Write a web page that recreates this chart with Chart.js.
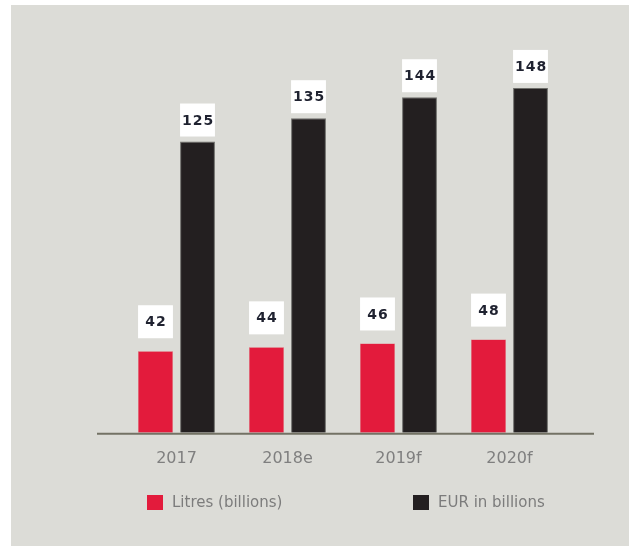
<!DOCTYPE html>
<html>
<head>
<meta charset="utf-8">
<script src="https://cdn.jsdelivr.net/npm/chart.js@4.4.1/dist/chart.umd.min.js"></script>
<style>
  html, body { margin: 0; padding: 0; background: #ffffff; }
  #panel { position: absolute; left: 11px; top: 5px; width: 618px; height: 541px; background: #dcdcd7; }
  #myChart { position: absolute; left: 0; top: 0; }
  #legend { position: absolute; left: 136px; top: 488px; display: flex; font-family: "DejaVu Sans", sans-serif; font-size: 15px; color: #7c7c7c; }
  .item { display: flex; align-items: center; width: 266px; }
  .box { width: 16px; height: 15px; margin-right: 9px; }
</style>
</head>
<body>
<div id="panel">
  <canvas id="myChart" width="618" height="541"></canvas>
  <div id="legend"></div>
</div>
<script>
// data
const years = ["2017", "2018e", "2019f", "2020f"];
const litres = [42, 44, 46, 48];
const euros = [125, 135, 144, 148];
const seriesNames = ["Litres (billions)", "EUR in billions"];

const red = "#e31b3c";
const black = "#231f20";

// white boxes with the value above each bar
const valueBoxes = {
  id: "valueBoxes",
  afterDatasetsDraw(chart) {
    const c = chart.ctx;
    chart.data.datasets.forEach((ds, i) => {
      const gap = i === 0 ? 13 : 5;
      chart.getDatasetMeta(i).data.forEach((bar, j) => {
        const w = bar.width;
        const h = 33;
        const x = bar.x - w / 2;
        const y = bar.y - gap - h;
        c.save();
        c.fillStyle = "#ffffff";
        c.fillRect(x, y, w, h);
        c.fillStyle = "#1f2230";
        c.font = "bold 14px 'DejaVu Sans'";
        c.letterSpacing = "1px";
        c.textAlign = "center";
        c.textBaseline = "middle";
        c.fillText(ds.data[j], bar.x + 0.5, y + h / 2 + 1);
        c.restore();
      });
    });
  }
};

// baseline, a bit wider than the bars
const baseLine = {
  id: "baseLine",
  afterDatasetsDraw(chart) {
    const a = chart.chartArea;
    const c = chart.ctx;
    c.save();
    c.strokeStyle = "#737264";
    c.lineWidth = 2;
    c.beginPath();
    c.moveTo(a.left - 24, a.bottom + 1);
    c.lineTo(a.right + 29, a.bottom + 1);
    c.stroke();
    c.restore();
  }
};

const ctx = document.getElementById("myChart");
const chart = new Chart(ctx, {
  type: "bar",
  data: {
    labels: years,
    datasets: [
      { label: seriesNames[0], data: litres, backgroundColor: red, borderColor: "#e4505f", borderWidth: 0.5, yAxisID: "yL" },
      { label: seriesNames[1], data: euros, backgroundColor: black, borderColor: "#6e6e6a", borderWidth: 1, yAxisID: "yE" }
    ]
  },
  options: {
    responsive: false,
    animation: false,
    devicePixelRatio: 1,
    categoryPercentage: 0.757,
    barPercentage: 0.83,
    layout: { padding: { left: 110, right: 64, top: 20, bottom: 62 } },
    plugins: { legend: { display: false }, tooltip: { enabled: false } },
    scales: {
      x: {
        grid: { display: false, drawTicks: false },
        border: { display: false },
        ticks: { color: "#7f7f7f", padding: 16, font: { family: "DejaVu Sans", size: 16 } }
      },
      yL: { display: false, min: 0, max: 210 },
      yE: { display: false, min: 0, max: 175 }
    }
  },
  plugins: [valueBoxes, baseLine]
});

// legend
const legend = document.getElementById("legend");
chart.data.datasets.forEach(ds => {
  const item = document.createElement("div");
  item.className = "item";
  item.innerHTML = '<span class="box" style="background:' + ds.backgroundColor + '"></span><span>' + ds.label + '</span>';
  legend.appendChild(item);
});
</script>
</body>
</html>
